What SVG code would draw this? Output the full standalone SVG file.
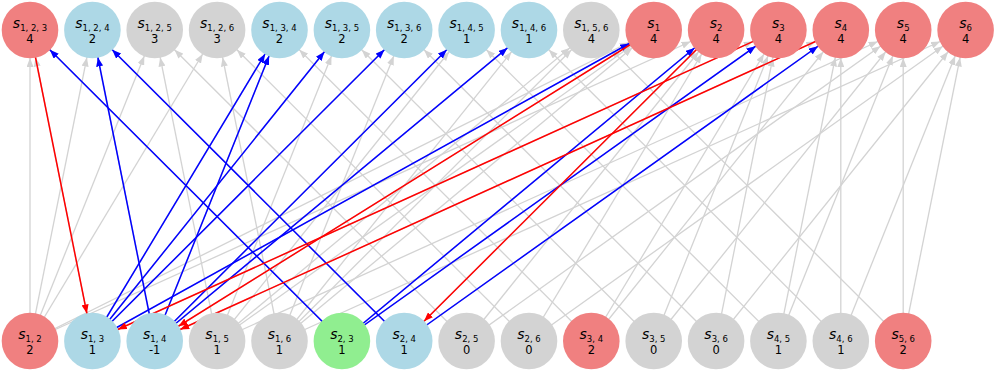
<svg xmlns="http://www.w3.org/2000/svg" width="996" height="371" viewBox="0 0 996 371">
<style>
.g{stroke:#d3d3d3;stroke-width:1.3;fill:none;marker-end:url(#ag)}
.b{stroke:#0000ff;stroke-width:1.5;fill:none;marker-end:url(#ab)}
.r{stroke:#ff0000;stroke-width:1.5;fill:none;marker-end:url(#ar)}
.nr{fill:#f08080}.nb{fill:#add8e6}.ng{fill:#d3d3d3}.nG{fill:#90ee90}
text{font-family:"DejaVu Sans","Liberation Sans",sans-serif;fill:#000;text-anchor:middle}
.l{font-size:14px;font-style:italic}
.sub{font-size:8.5px;font-style:normal}
.v{font-size:11.5px}
</style>
<defs>
<marker id="ag" markerUnits="userSpaceOnUse" markerWidth="9" markerHeight="7" refX="37" refY="3.5" orient="auto"><path d="M0,0L9,3.5L0,7z" fill="#d3d3d3"/></marker>
<marker id="ab" markerUnits="userSpaceOnUse" markerWidth="9" markerHeight="7" refX="37" refY="3.5" orient="auto"><path d="M0,0L9,3.5L0,7z" fill="#0000ff"/></marker>
<marker id="ar" markerUnits="userSpaceOnUse" markerWidth="9" markerHeight="7" refX="37" refY="3.5" orient="auto"><path d="M0,0L9,3.5L0,7z" fill="#ff0000"/></marker>
</defs>
<rect width="996" height="371" fill="#fff"/>
<g id="connectors">
<g id="gray-edges">
<line class="g" x1="30" y1="341" x2="30" y2="30"/>
<line class="g" x1="30" y1="341" x2="92.4" y2="30"/>
<line class="g" x1="30" y1="341" x2="154.7" y2="30"/>
<line class="g" x1="30" y1="341" x2="217.1" y2="30"/>
<line class="g" x1="30" y1="341" x2="653.7" y2="30"/>
<line class="g" x1="30" y1="341" x2="716.1" y2="30"/>
<line class="g" x1="92.4" y1="341" x2="30" y2="30"/>
<line class="g" x1="92.4" y1="341" x2="279.5" y2="30"/>
<line class="g" x1="92.4" y1="341" x2="341.9" y2="30"/>
<line class="g" x1="92.4" y1="341" x2="404.2" y2="30"/>
<line class="g" x1="92.4" y1="341" x2="653.7" y2="30"/>
<line class="g" x1="92.4" y1="341" x2="778.4" y2="30"/>
<line class="g" x1="154.7" y1="341" x2="92.4" y2="30"/>
<line class="g" x1="154.7" y1="341" x2="279.5" y2="30"/>
<line class="g" x1="154.7" y1="341" x2="466.6" y2="30"/>
<line class="g" x1="154.7" y1="341" x2="529" y2="30"/>
<line class="g" x1="154.7" y1="341" x2="653.7" y2="30"/>
<line class="g" x1="154.7" y1="341" x2="840.8" y2="30"/>
<line class="g" x1="217.1" y1="341" x2="154.7" y2="30"/>
<line class="g" x1="217.1" y1="341" x2="341.9" y2="30"/>
<line class="g" x1="217.1" y1="341" x2="466.6" y2="30"/>
<line class="g" x1="217.1" y1="341" x2="591.3" y2="30"/>
<line class="g" x1="217.1" y1="341" x2="653.7" y2="30"/>
<line class="g" x1="217.1" y1="341" x2="903.2" y2="30"/>
<line class="g" x1="279.5" y1="341" x2="217.1" y2="30"/>
<line class="g" x1="279.5" y1="341" x2="404.2" y2="30"/>
<line class="g" x1="279.5" y1="341" x2="529" y2="30"/>
<line class="g" x1="279.5" y1="341" x2="591.3" y2="30"/>
<line class="g" x1="279.5" y1="341" x2="653.7" y2="30"/>
<line class="g" x1="279.5" y1="341" x2="965.6" y2="30"/>
<line class="g" x1="341.9" y1="341" x2="30" y2="30"/>
<line class="g" x1="341.9" y1="341" x2="716.1" y2="30"/>
<line class="g" x1="341.9" y1="341" x2="778.4" y2="30"/>
<line class="g" x1="404.2" y1="341" x2="92.4" y2="30"/>
<line class="g" x1="404.2" y1="341" x2="716.1" y2="30"/>
<line class="g" x1="404.2" y1="341" x2="840.8" y2="30"/>
<line class="g" x1="466.6" y1="341" x2="154.7" y2="30"/>
<line class="g" x1="466.6" y1="341" x2="716.1" y2="30"/>
<line class="g" x1="466.6" y1="341" x2="903.2" y2="30"/>
<line class="g" x1="529" y1="341" x2="217.1" y2="30"/>
<line class="g" x1="529" y1="341" x2="716.1" y2="30"/>
<line class="g" x1="529" y1="341" x2="965.6" y2="30"/>
<line class="g" x1="591.3" y1="341" x2="279.5" y2="30"/>
<line class="g" x1="591.3" y1="341" x2="778.4" y2="30"/>
<line class="g" x1="591.3" y1="341" x2="840.8" y2="30"/>
<line class="g" x1="653.7" y1="341" x2="341.9" y2="30"/>
<line class="g" x1="653.7" y1="341" x2="778.4" y2="30"/>
<line class="g" x1="653.7" y1="341" x2="903.2" y2="30"/>
<line class="g" x1="716.1" y1="341" x2="404.2" y2="30"/>
<line class="g" x1="716.1" y1="341" x2="778.4" y2="30"/>
<line class="g" x1="716.1" y1="341" x2="965.6" y2="30"/>
<line class="g" x1="778.4" y1="341" x2="466.6" y2="30"/>
<line class="g" x1="778.4" y1="341" x2="840.8" y2="30"/>
<line class="g" x1="778.4" y1="341" x2="903.2" y2="30"/>
<line class="g" x1="840.8" y1="341" x2="529" y2="30"/>
<line class="g" x1="840.8" y1="341" x2="840.8" y2="30"/>
<line class="g" x1="840.8" y1="341" x2="965.6" y2="30"/>
<line class="g" x1="903.2" y1="341" x2="591.3" y2="30"/>
<line class="g" x1="903.2" y1="341" x2="903.2" y2="30"/>
<line class="g" x1="903.2" y1="341" x2="965.6" y2="30"/>
</g>
<g id="blue-edges">
<line class="b" x1="341.9" y1="341" x2="30" y2="30"/>
<line class="b" x1="404.2" y1="341" x2="92.4" y2="30"/>
<line class="b" x1="154.7" y1="341" x2="92.4" y2="30"/>
<line class="b" x1="92.4" y1="341" x2="279.5" y2="30"/>
<line class="b" x1="154.7" y1="341" x2="279.5" y2="30"/>
<line class="b" x1="92.4" y1="341" x2="341.9" y2="30"/>
<line class="b" x1="92.4" y1="341" x2="404.2" y2="30"/>
<line class="b" x1="154.7" y1="341" x2="466.6" y2="30"/>
<line class="b" x1="154.7" y1="341" x2="529" y2="30"/>
<line class="b" x1="92.4" y1="341" x2="653.7" y2="30"/>
<line class="b" x1="341.9" y1="341" x2="716.1" y2="30"/>
<line class="b" x1="341.9" y1="341" x2="778.4" y2="30"/>
<line class="b" x1="404.2" y1="341" x2="840.8" y2="30"/>
</g>
<g id="red-edges">
<line class="r" x1="30" y1="30" x2="92.4" y2="341"/>
<line class="r" x1="653.7" y1="30" x2="154.7" y2="341"/>
<line class="r" x1="778.4" y1="30" x2="92.4" y2="341"/>
<line class="r" x1="840.8" y1="30" x2="154.7" y2="341"/>
<line class="r" x1="716.1" y1="30" x2="404.2" y2="341"/>
</g>
</g>
<g id="nodes">
<g id="n-s123"><circle class="nr" cx="30" cy="30" r="28.3"/><text class="l" x="30" y="28">s<tspan class="sub" dy="3">1, 2, 3</tspan></text><text class="v" x="30" y="43">4</text></g>
<g id="n-s124"><circle class="nb" cx="92.4" cy="30" r="28.3"/><text class="l" x="92.4" y="28">s<tspan class="sub" dy="3">1, 2, 4</tspan></text><text class="v" x="92.4" y="43">2</text></g>
<g id="n-s125"><circle class="ng" cx="154.7" cy="30" r="28.3"/><text class="l" x="154.7" y="28">s<tspan class="sub" dy="3">1, 2, 5</tspan></text><text class="v" x="154.7" y="43">3</text></g>
<g id="n-s126"><circle class="ng" cx="217.1" cy="30" r="28.3"/><text class="l" x="217.1" y="28">s<tspan class="sub" dy="3">1, 2, 6</tspan></text><text class="v" x="217.1" y="43">3</text></g>
<g id="n-s134"><circle class="nb" cx="279.5" cy="30" r="28.3"/><text class="l" x="279.5" y="28">s<tspan class="sub" dy="3">1, 3, 4</tspan></text><text class="v" x="279.5" y="43">2</text></g>
<g id="n-s135"><circle class="nb" cx="341.9" cy="30" r="28.3"/><text class="l" x="341.9" y="28">s<tspan class="sub" dy="3">1, 3, 5</tspan></text><text class="v" x="341.9" y="43">2</text></g>
<g id="n-s136"><circle class="nb" cx="404.2" cy="30" r="28.3"/><text class="l" x="404.2" y="28">s<tspan class="sub" dy="3">1, 3, 6</tspan></text><text class="v" x="404.2" y="43">2</text></g>
<g id="n-s145"><circle class="nb" cx="466.6" cy="30" r="28.3"/><text class="l" x="466.6" y="28">s<tspan class="sub" dy="3">1, 4, 5</tspan></text><text class="v" x="466.6" y="43">1</text></g>
<g id="n-s146"><circle class="nb" cx="529" cy="30" r="28.3"/><text class="l" x="529" y="28">s<tspan class="sub" dy="3">1, 4, 6</tspan></text><text class="v" x="529" y="43">1</text></g>
<g id="n-s156"><circle class="ng" cx="591.3" cy="30" r="28.3"/><text class="l" x="591.3" y="28">s<tspan class="sub" dy="3">1, 5, 6</tspan></text><text class="v" x="591.3" y="43">4</text></g>
<g id="n-s1"><circle class="nr" cx="653.7" cy="30" r="28.3"/><text class="l" x="653.7" y="28">s<tspan class="sub" dy="3">1</tspan></text><text class="v" x="653.7" y="43">4</text></g>
<g id="n-s2"><circle class="nr" cx="716.1" cy="30" r="28.3"/><text class="l" x="716.1" y="28">s<tspan class="sub" dy="3">2</tspan></text><text class="v" x="716.1" y="43">4</text></g>
<g id="n-s3"><circle class="nr" cx="778.4" cy="30" r="28.3"/><text class="l" x="778.4" y="28">s<tspan class="sub" dy="3">3</tspan></text><text class="v" x="778.4" y="43">4</text></g>
<g id="n-s4"><circle class="nr" cx="840.8" cy="30" r="28.3"/><text class="l" x="840.8" y="28">s<tspan class="sub" dy="3">4</tspan></text><text class="v" x="840.8" y="43">4</text></g>
<g id="n-s5"><circle class="nr" cx="903.2" cy="30" r="28.3"/><text class="l" x="903.2" y="28">s<tspan class="sub" dy="3">5</tspan></text><text class="v" x="903.2" y="43">4</text></g>
<g id="n-s6"><circle class="nr" cx="965.6" cy="30" r="28.3"/><text class="l" x="965.6" y="28">s<tspan class="sub" dy="3">6</tspan></text><text class="v" x="965.6" y="43">4</text></g>
<g id="n-s12"><circle class="nr" cx="30" cy="341" r="28.3"/><text class="l" x="30" y="339">s<tspan class="sub" dy="3">1, 2</tspan></text><text class="v" x="30" y="354">2</text></g>
<g id="n-s13"><circle class="nb" cx="92.4" cy="341" r="28.3"/><text class="l" x="92.4" y="339">s<tspan class="sub" dy="3">1, 3</tspan></text><text class="v" x="92.4" y="354">1</text></g>
<g id="n-s14"><circle class="nb" cx="154.7" cy="341" r="28.3"/><text class="l" x="154.7" y="339">s<tspan class="sub" dy="3">1, 4</tspan></text><text class="v" x="154.7" y="354">-1</text></g>
<g id="n-s15"><circle class="ng" cx="217.1" cy="341" r="28.3"/><text class="l" x="217.1" y="339">s<tspan class="sub" dy="3">1, 5</tspan></text><text class="v" x="217.1" y="354">1</text></g>
<g id="n-s16"><circle class="ng" cx="279.5" cy="341" r="28.3"/><text class="l" x="279.5" y="339">s<tspan class="sub" dy="3">1, 6</tspan></text><text class="v" x="279.5" y="354">1</text></g>
<g id="n-s23"><circle class="nG" cx="341.9" cy="341" r="28.3"/><text class="l" x="341.9" y="339">s<tspan class="sub" dy="3">2, 3</tspan></text><text class="v" x="341.9" y="354">1</text></g>
<g id="n-s24"><circle class="nb" cx="404.2" cy="341" r="28.3"/><text class="l" x="404.2" y="339">s<tspan class="sub" dy="3">2, 4</tspan></text><text class="v" x="404.2" y="354">1</text></g>
<g id="n-s25"><circle class="ng" cx="466.6" cy="341" r="28.3"/><text class="l" x="466.6" y="339">s<tspan class="sub" dy="3">2, 5</tspan></text><text class="v" x="466.6" y="354">0</text></g>
<g id="n-s26"><circle class="ng" cx="529" cy="341" r="28.3"/><text class="l" x="529" y="339">s<tspan class="sub" dy="3">2, 6</tspan></text><text class="v" x="529" y="354">0</text></g>
<g id="n-s34"><circle class="nr" cx="591.3" cy="341" r="28.3"/><text class="l" x="591.3" y="339">s<tspan class="sub" dy="3">3, 4</tspan></text><text class="v" x="591.3" y="354">2</text></g>
<g id="n-s35"><circle class="ng" cx="653.7" cy="341" r="28.3"/><text class="l" x="653.7" y="339">s<tspan class="sub" dy="3">3, 5</tspan></text><text class="v" x="653.7" y="354">0</text></g>
<g id="n-s36"><circle class="ng" cx="716.1" cy="341" r="28.3"/><text class="l" x="716.1" y="339">s<tspan class="sub" dy="3">3, 6</tspan></text><text class="v" x="716.1" y="354">0</text></g>
<g id="n-s45"><circle class="ng" cx="778.4" cy="341" r="28.3"/><text class="l" x="778.4" y="339">s<tspan class="sub" dy="3">4, 5</tspan></text><text class="v" x="778.4" y="354">1</text></g>
<g id="n-s46"><circle class="ng" cx="840.8" cy="341" r="28.3"/><text class="l" x="840.8" y="339">s<tspan class="sub" dy="3">4, 6</tspan></text><text class="v" x="840.8" y="354">1</text></g>
<g id="n-s56"><circle class="nr" cx="903.2" cy="341" r="28.3"/><text class="l" x="903.2" y="339">s<tspan class="sub" dy="3">5, 6</tspan></text><text class="v" x="903.2" y="354">2</text></g>
</g>
</svg>
